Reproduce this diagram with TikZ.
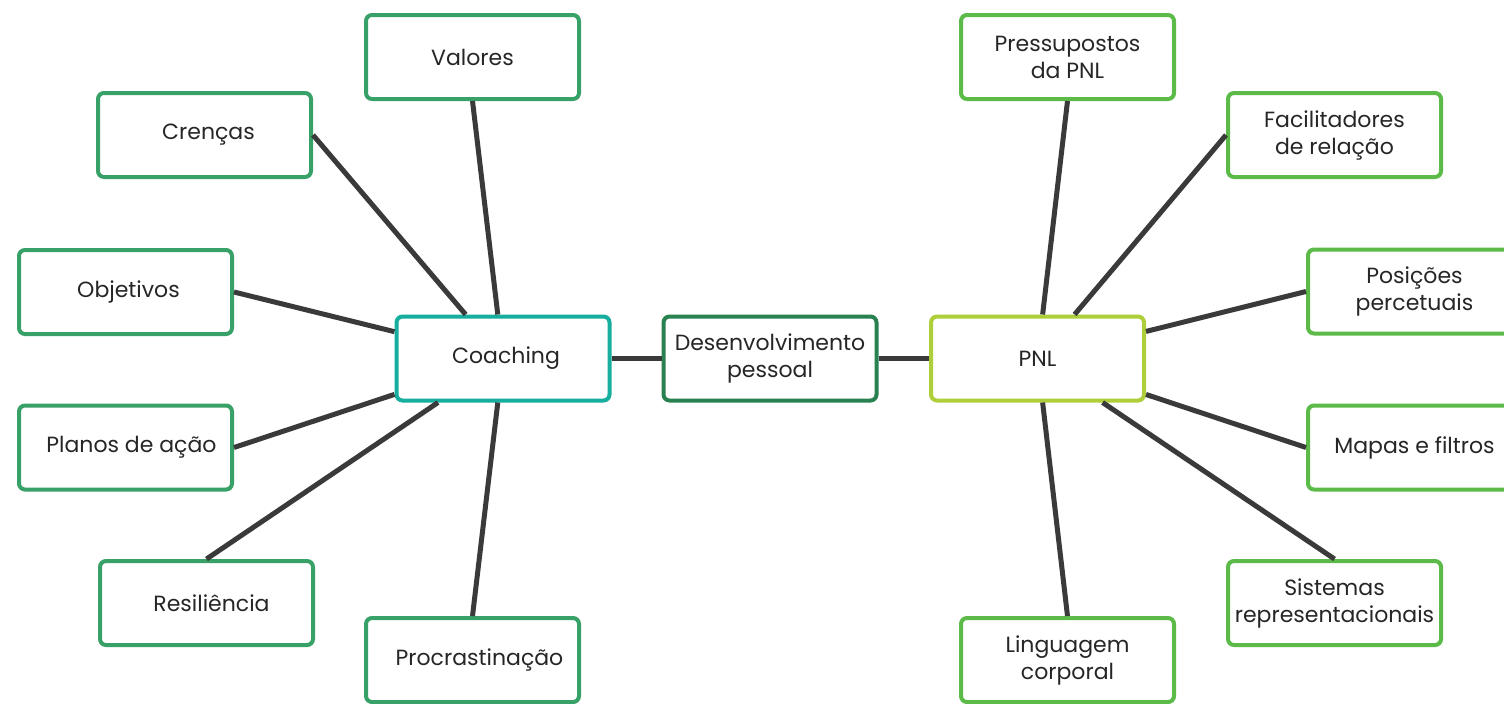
\documentclass[tikz,border=0pt]{standalone}
\usepackage{fontspec}
\setmainfont{Poppins}
\definecolor{leftgreen}{HTML}{38A168}
\definecolor{rightgreen}{HTML}{5CBB48}
\definecolor{teal}{HTML}{16AE9E}
\definecolor{darkgreen}{HTML}{2A8150}
\definecolor{lime}{HTML}{AECF3A}
\definecolor{linkgray}{HTML}{3A3A3A}
\tikzset{
  box/.style={draw, line width=2pt, rounded corners=3pt, fill=white,
    minimum width=106.5pt, minimum height=42pt, align=center,
    font=\fontsize{11pt}{13.5pt}\selectfont, text=black!85, inner sep=0pt},
  lbox/.style={box, draw=leftgreen},
  rbox/.style={box, draw=rightgreen},
  link/.style={draw=linkgray, line width=2.5pt},
}
\begin{document}
\begin{tikzpicture}[x=0.5pt,y=-0.5pt]
\useasboundingbox (0,0) rectangle (1504,703);
% centre row
\node[box, draw=teal] (coach) at (503,358.5) {\hspace*{3pt}Coaching};
\node[box, draw=darkgreen] (desen) at (770,358.5) {Desenvolvimento\\pessoal};
\node[box, draw=lime] (pnl) at (1037.5,358.5) {PNL};
% left
\node[lbox] (valores) at (472.5,57) {Valores};
\node[lbox] (crencas) at (204.5,135) {\hspace*{4pt}Crenças};
\node[lbox] (objet) at (125.5,292) {\hspace*{3pt}Objetivos};
\node[lbox] (planos) at (125.5,447.5) {\hspace*{6pt}Planos de ação};
\node[lbox] (resil) at (206.5,603) {\hspace*{5pt}Resiliência};
\node[lbox] (procr) at (472.5,660) {\hspace*{7pt}Procrastinação};
% right
\node[rbox] (press) at (1067.5,57) {Pressupostos\\da PNL};
\node[rbox] (facil) at (1334.5,135) {Facilitadores\\de relação};
\node[rbox] (posic) at (1414.5,291.5) {Posições\\percetuais};
\node[rbox] (mapas) at (1414.5,447.5) {Mapas e filtros};
\node[rbox] (siste) at (1334.5,603) {Sistemas\\representacionais};
\node[rbox] (lingu) at (1067.5,660) {Linguagem\\corporal};
% links
\path[link] (coach.east) -- (desen.west);
\path[link] (desen.east) -- (pnl.west);
\path[link] (valores.south) -- (coach);
\path[link] (crencas.east) -- (coach);
\path[link] (objet.east) -- (coach);
\path[link] (planos.east) -- (coach);
\path[link] (resil.north) -- (coach);
\path[link] (procr.north) -- (coach);
\path[link] (press.south) -- (pnl);
\path[link] (facil.west) -- (pnl);
\path[link] (posic.west) -- (pnl);
\path[link] (mapas.west) -- (pnl);
\path[link] (siste.north) -- (pnl);
\path[link] (lingu.north) -- (pnl);
\end{tikzpicture}
\end{document}
